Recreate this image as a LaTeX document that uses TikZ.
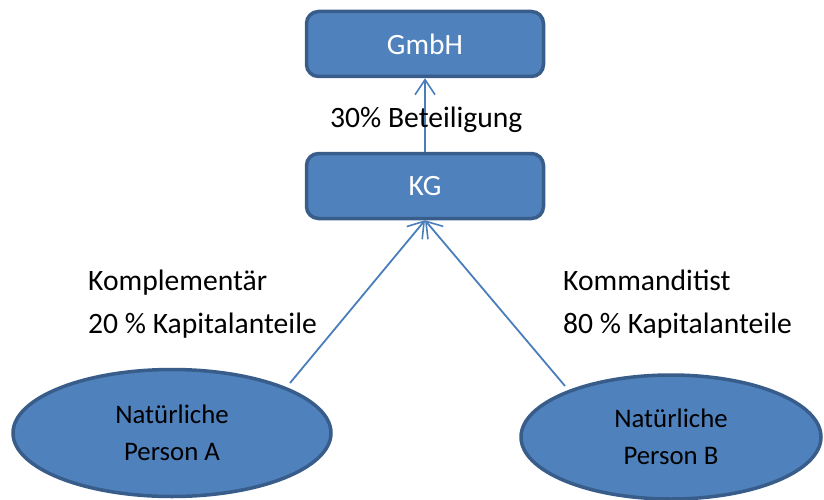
\documentclass[tikz,border=0pt]{standalone}
\usepackage{fontspec}
\setmainfont{Carlito}
\usetikzlibrary{arrows.meta,shapes.geometric}
\definecolor{boxfill}{HTML}{4F81BD}
\definecolor{boxline}{HTML}{385D8A}
\definecolor{conn}{HTML}{4A7EBB}
\begin{document}
\begin{tikzpicture}[x=1pt,y=-1pt,
  company/.style={draw=boxline,fill=boxfill,line width=3.5pt,rounded corners=12pt,
    minimum width=237pt,minimum height=65pt,inner sep=0pt,text=white,
    font=\fontsize{29.5}{35}\selectfont},
  person/.style={draw=boxline,fill=boxfill,line width=3.5pt,ellipse,inner sep=0pt,
    align=center,font=\fontsize{26.8}{37}\selectfont},
  lbl/.style={anchor=base west,inner sep=0pt,font=\fontsize{29.6}{35}\selectfont},
  link/.style={draw=conn,line width=1.8pt,-{Straight Barb[length=15pt,width=20pt,line width=1.6pt]}}]
\useasboundingbox (0,0) rectangle (824,500);
\node[company] (gmbh) at (425,44) {GmbH};
\node[company] (kg) at (425,186) {KG};
\node[person,minimum width=318pt,minimum height=127pt] (pa) at (172,433) {Natürliche\\Person A};
\node[person,minimum width=300pt,minimum height=124pt] (pb) at (671,437) {Natürliche\\Person B};
\coordinate (aStart) at (290,383);
\coordinate (bStart) at (565,386);
\draw[link] (kg.north) -- (gmbh.south);
\draw[link] (aStart) -- (kg.south);
\draw[link] (bStart) -- (kg.south);
\node[lbl] (beteil) at (330,128) {30\% Beteiligung};
\node[lbl] (kompl) at (88,290) {Komplementär};
\node[lbl] (kompla) at (88,333) {20 \% Kapitalanteile};
\node[lbl] (komm) at (563,290) {Kommanditist};
\node[lbl] (komma) at (563,333) {80 \% Kapitalanteile};
\end{tikzpicture}
\end{document}
